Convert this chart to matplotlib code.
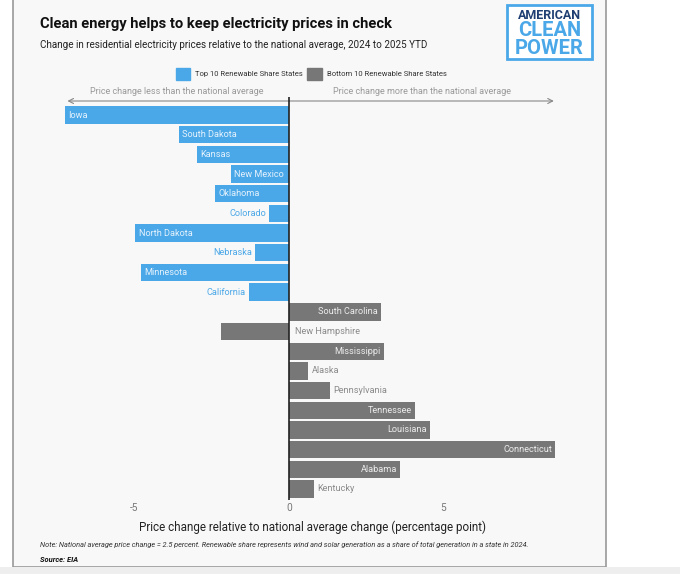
import matplotlib
matplotlib.use("Agg")
import matplotlib.pyplot as plt
from matplotlib.patches import Rectangle, Patch

# valeurs (point de pourcentage)
top_states = ["Iowa", "South Dakota", "Kansas", "New Mexico", "Oklahoma",
              "Colorado", "North Dakota", "Nebraska", "Minnesota", "California"]
top_change = [-7.26, -3.57, -2.98, -1.87, -2.38, -0.64, -4.97, -1.11, -4.78, -1.30]
bottom_states = ["South Carolina", "New Hampshire", "Mississippi", "Alaska",
                 "Pennsylvania", "Tennessee", "Louisiana", "Connecticut",
                 "Alabama", "Kentucky"]
bottom_change = [2.98, -2.20, 3.07, 0.63, 1.32, 4.07, 4.55, 8.61, 3.60, 0.81]
xticks = [-5, 0, 5]

BLUE = "#4ba8e8"
GREY = "#777777"
W, H = 680, 574

plt.rcParams["font.family"] = ["Roboto", "DejaVu Sans"]
plt.rcParams["axes.unicode_minus"] = False


def fx(px):
    return px / W


def fy(py):
    return 1 - py / H


fig = plt.figure(figsize=(W / 100, H / 100), dpi=100, facecolor="white")

# panneau gris clair avec bordure (derrière les axes)
fig.patches.append(Rectangle((fx(13), fy(567)), fx(606) - fx(13), fy(-5) - fy(567),
                             transform=fig.transFigure, facecolor="#f8f8f8",
                             edgecolor="#999999", lw=1.2, zorder=-2))
fig.patches.append(Rectangle((0, 0), 1, 7 / H, transform=fig.transFigure,
                             facecolor="#eeeeee", edgecolor="none", zorder=-1))

# axes placés au pixel près
x0, px_unit = 289.0, 30.9  # position de zéro, pixels par unité
xlim = (-7.6, 9.1)
ax_left = x0 + xlim[0] * px_unit
ax_right = x0 + xlim[1] * px_unit
ax_top, ax_bot = 97, 500
ax = fig.add_axes([fx(ax_left), fy(ax_bot), fx(ax_right) - fx(ax_left),
                   fy(ax_top) - fy(ax_bot)])
ax.set_facecolor("none")

states = top_states + bottom_states
values = top_change + bottom_change
colors = [BLUE] * len(top_states) + [GREY] * len(bottom_states)
ypos = list(range(len(states)))
ax.barh(ypos, values, height=0.88, color=colors, zorder=2)
row = 19.68
ax.set_ylim(len(states) - 1 + 11 / row, -18 / row)
ax.set_xlim(*xlim)

# étiquettes des barres
fs = 6.6
for y, name, v, c in zip(ypos, states, values, colors):
    light = "#e3f1fc" if c == BLUE else "#ececec"
    dark = BLUE if c == BLUE else "#8a8a8a"
    if c == BLUE:
        if abs(v) >= 1.5:
            ax.text(v + 0.1, y, name, ha="left", va="center", color=light, fontsize=fs)
        else:
            ax.text(v - 0.09, y, name, ha="right", va="center", color=dark, fontsize=fs)
    else:
        if v < 0:
            ax.text(0.2, y, name, ha="left", va="center", color=dark, fontsize=fs)
        elif v >= 1.5:
            ax.text(v - 0.1, y, name, ha="right", va="center", color=light, fontsize=fs)
        else:
            ax.text(v + 0.12, y, name, ha="left", va="center", color=dark, fontsize=fs)

ax.axvline(0, color="#222222", lw=1.2, zorder=3)
for s in ax.spines.values():
    s.set_visible(False)
ax.set_yticks([])
ax.set_xticks(xticks)
ax.tick_params(axis="x", length=0, pad=2.5, labelsize=7.3, labelcolor="#777777")
ax.set_xlabel("Price change relative to national average change (percentage point)",
              fontsize=8.35, color="#222222", labelpad=5)

# flèche double au-dessus des barres
y_arrow = -18 / row + 4 / row
ax.annotate("", xy=(min(values), y_arrow), xytext=(max(values) + 0.05, y_arrow),
            arrowprops=dict(arrowstyle="<->,head_length=0.35,head_width=0.18",
                            color="#888888", lw=0.8),
            annotation_clip=False, zorder=1)
y_txt = -18 / row - 5 / row
ax.text(min(values) / 2, y_txt, "Price change less than the national average",
        ha="center", va="center", fontsize=6.5, color="#999999", clip_on=False)
ax.text(max(values) / 2, y_txt, "Price change more than the national average",
        ha="center", va="center", fontsize=6.5, color="#999999", clip_on=False)

# légende
handles = [Patch(color=BLUE, label="Top 10 Renewable Share States"),
           Patch(color=GREY, label="Bottom 10 Renewable Share States")]
fig.legend(handles=handles, loc="center", bbox_to_anchor=(fx(311), fy(74)), ncol=2,
           frameon=False, fontsize=5.5, handlelength=1.85, handleheight=1.85,
           handletextpad=0.65, columnspacing=0.65, labelcolor="#333333")

# titres
fig.text(fx(40), fy(24), "Clean energy helps to keep electricity prices in check",
         fontsize=10.6, fontweight="bold", color="#111111", va="center")
fig.text(fx(40), fy(45), "Change in residential electricity prices relative to the "
         "national average, 2024 to 2025 YTD", fontsize=7.1, color="#222222", va="center")

# notes
fig.text(fx(40), fy(545), "Note: National average price change = 2.5 percent. Renewable share "
         "represents wind and solar generation as a share of total generation in a state in 2024.",
         fontsize=5.35, style="italic", color="#333333", va="center")
fig.text(fx(40), fy(559), "Source: EIA", fontsize=5.4, style="italic",
         fontweight="bold", color="#111111", va="center")

# logo
fig.patches.append(Rectangle((fx(507), fy(59)), fx(592) - fx(507), fy(5) - fy(59),
                             transform=fig.transFigure, facecolor="white",
                             edgecolor=BLUE, lw=2, zorder=1))
fig.text(fx(549.5), fy(15.5), "AMERICAN", fontsize=9, fontweight="bold",
         color="#1f3f73", ha="center", va="center")
fig.text(fx(549.5), fy(31), "CLEAN", fontsize=14.5, fontweight="bold",
         color=BLUE, ha="center", va="center")
fig.text(fx(549.5), fy(48.5), "POWER", fontsize=14.5, fontweight="bold",
         color=BLUE, ha="center", va="center")

fig.savefig("out.png", dpi=100)
